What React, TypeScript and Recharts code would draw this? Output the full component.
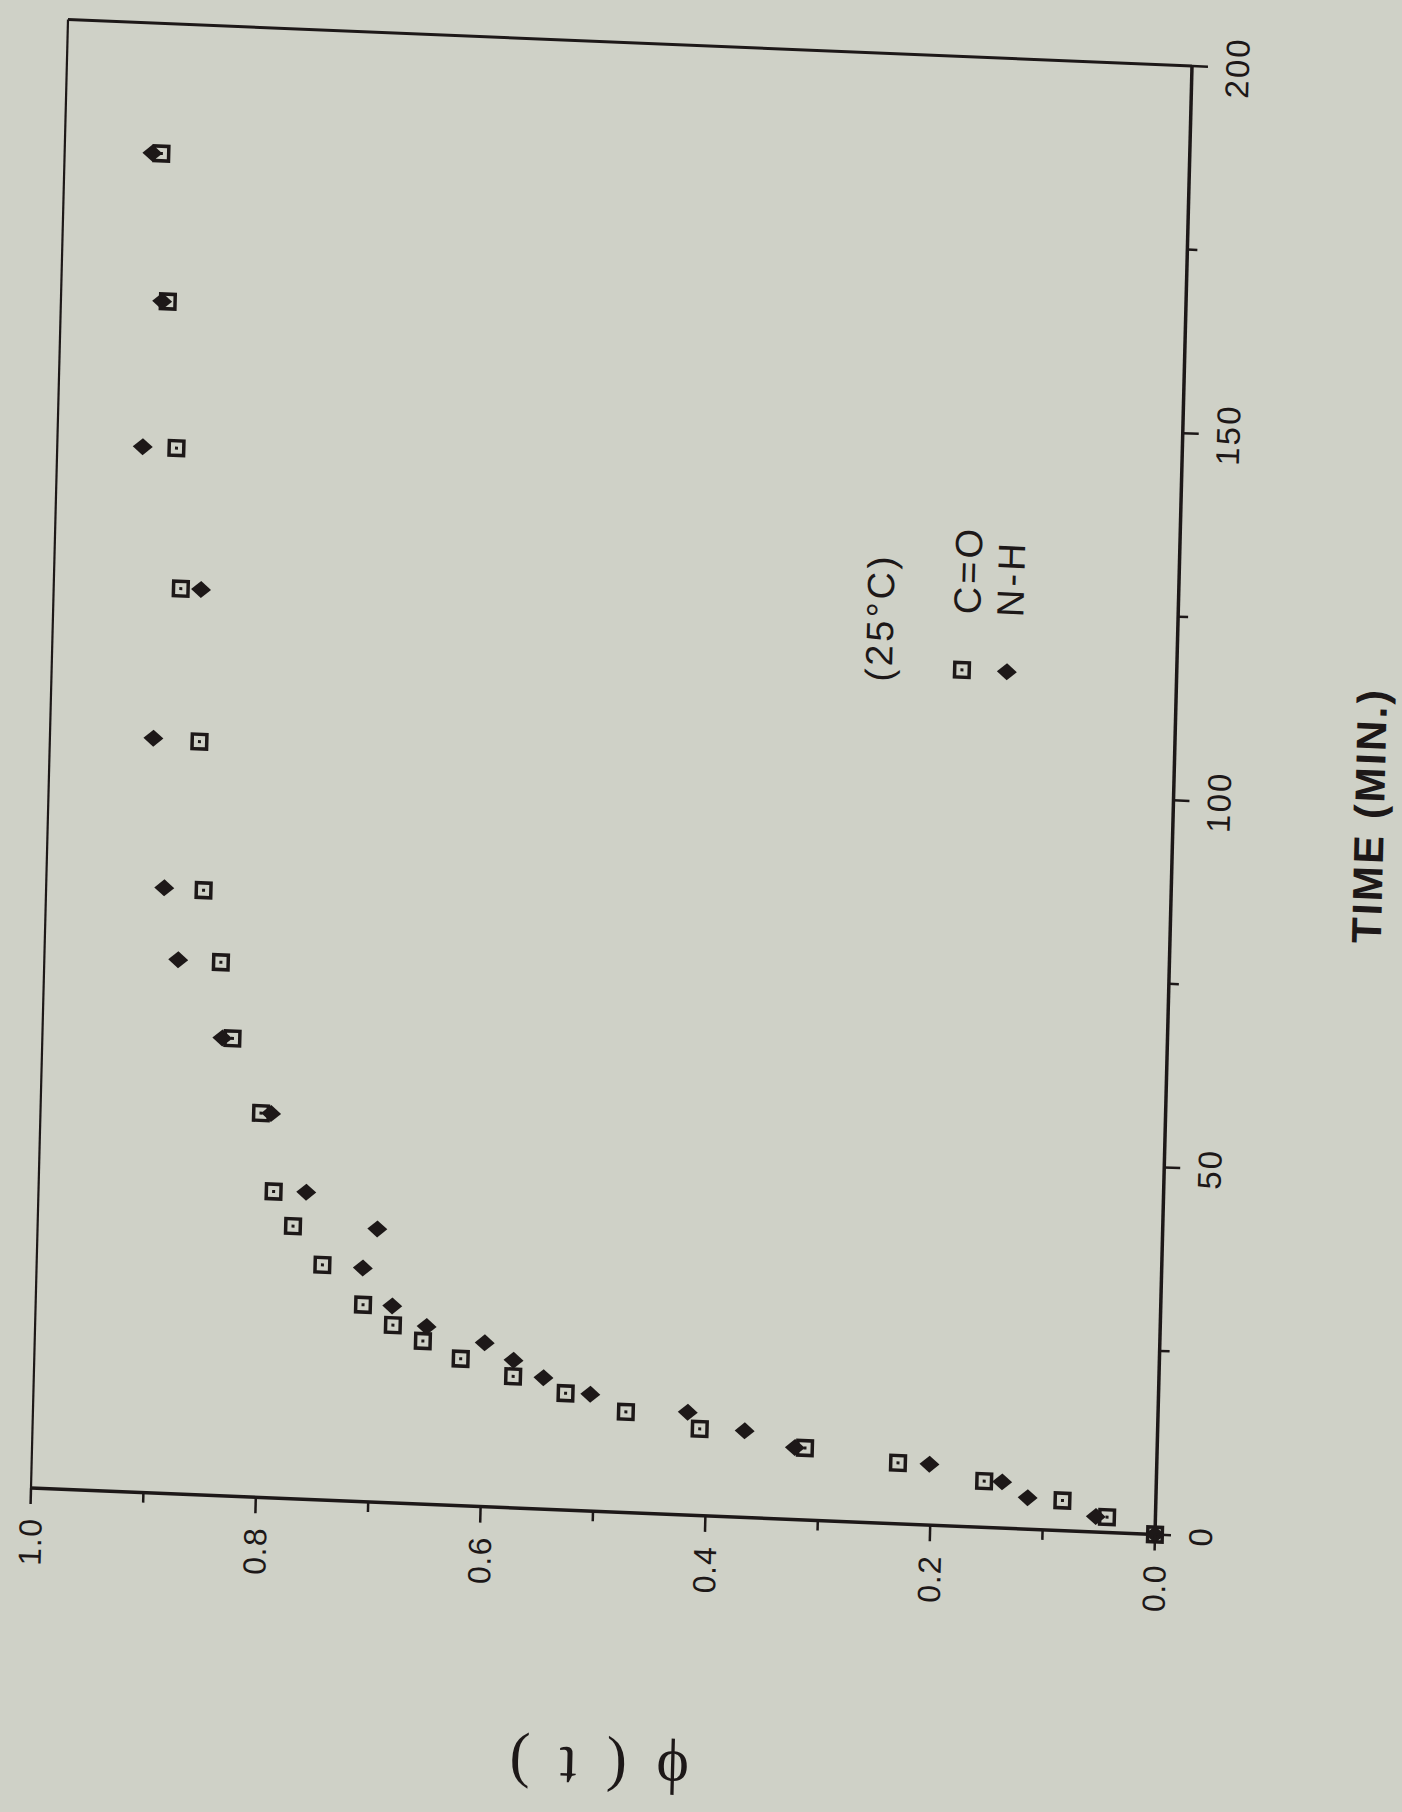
import React from "react";
import {
  ScatterChart,
  Scatter,
  XAxis,
  YAxis,
  Label,
  Legend,
  ReferenceLine,
} from "recharts";

// C=O band (open squares) and N-H band (filled diamonds), 25°C
const timesCO = [0, 2.1, 4.1, 6.3, 8.3, 9.8, 11.8, 13.7, 15.9, 17.9, 20.0, 22.2, 24.2, 26.8, 32.0, 37.1, 41.7, 52.3, 62.3, 72.6, 82.3, 102.5, 123.2, 142.3, 162.2, 182.3];
const phiCO = [0, 0.043, 0.083, 0.153, 0.23, 0.313, 0.407, 0.473, 0.527, 0.574, 0.621, 0.655, 0.682, 0.709, 0.746, 0.773, 0.791, 0.804, 0.831, 0.843, 0.86, 0.867, 0.887, 0.894, 0.905, 0.914];

const timesNH = [0, 2.1, 4.3, 6.3, 8.3, 9.8, 11.8, 14.0, 15.9, 17.9, 20.1, 22.3, 24.2, 26.8, 31.8, 37.2, 41.8, 52.3, 62.3, 72.7, 82.4, 102.7, 123.2, 142.3, 162.2, 182.3];
const phiNH = [0, 0.053, 0.114, 0.137, 0.202, 0.322, 0.367, 0.418, 0.505, 0.547, 0.574, 0.6, 0.652, 0.683, 0.71, 0.698, 0.762, 0.795, 0.84, 0.881, 0.895, 0.908, 0.869, 0.924, 0.91, 0.922];

const xTicks = [0, 25, 50, 75, 100, 125, 150, 175, 200];
const yTicks = [0, 0.1, 0.2, 0.3, 0.4, 0.5, 0.6, 0.7, 0.8, 0.9, 1.0];

const seriesNames = ["C=O", "N-H"];
const legendTitle = "(25°C)";
const xTitle = "TIME (MIN.)";
const yTitle = "ϕ ( t )";

const ink = "#1d1818";
const paper = "#cfd1c7";
const sans = "'Liberation Sans', Arial, Helvetica, sans-serif";
const serif = "'Liberation Serif', 'DejaVu Serif', 'Times New Roman', serif";

const coData = timesCO.map((t, i) => ({ t, phi: phiCO[i] }));
const nhData = timesNH.map((t, i) => ({ t, phi: phiNH[i] }));

// chart geometry (unrotated); the whole chart is turned on its side, slightly skewed, like the scan
const yAxisW = 310;
const xAxisH = 240;
const top = 20;
const right = 60;
const plotW = 1469;
const plotH = 1126;
const W = yAxisW + plotW + right;
const H = top + plotH + xAxisH;
const cx0 = yAxisW + plotW / 2;
const cy0 = top + plotH / 2;

function SquareMark(props: any) {
  const { cx, cy } = props;
  return (
    <g>
      <rect x={cx - 7.3} y={cy - 7.3} width={14.6} height={14.6} fill="none" stroke={ink} strokeWidth={3.5} />
      <rect x={cx - 1.5} y={cy - 1.5} width={3} height={3} fill={ink} />
    </g>
  );
}

function DiamondMark(props: any) {
  const { cx, cy } = props;
  return <polygon points={`${cx},${cy - 10} ${cx + 8.5},${cy} ${cx},${cy + 10} ${cx - 8.5},${cy}`} fill={ink} />;
}

function TimeTick(props: any) {
  const { x, y, payload } = props;
  const v = payload.value;
  const major = v % 50 === 0;
  return (
    <g>
      <line x1={x} y1={y} x2={x} y2={y + (major ? 16 : 10)} stroke={ink} strokeWidth={2.5} />
      {major && (
        <text x={x} y={y + 57} textAnchor="middle" fontFamily={sans} fontSize={33} letterSpacing={2} fill={ink}>
          {v}
        </text>
      )}
    </g>
  );
}

function PhiTick(props: any) {
  const { x, y, payload } = props;
  const v = payload.value;
  const major = Math.round(v * 10) % 2 === 0;
  return (
    <g>
      <line x1={x} y1={y} x2={x - (major ? 16 : 10)} y2={y} stroke={ink} strokeWidth={2.5} />
      {major && (
        <text x={x - 30} y={y + 11.5} textAnchor="end" fontFamily={sans} fontSize={32} letterSpacing={1} fill={ink}>
          {v.toFixed(1)}
        </text>
      )}
    </g>
  );
}

function TimeTitle(props: any) {
  const vb = props.viewBox || { x: yAxisW, y: top + plotH, width: plotW };
  return (
    <text
      x={vb.x + vb.width / 2 - 7}
      y={vb.y + 211}
      textAnchor="middle"
      fontFamily={sans}
      fontWeight="bold"
      fontSize={42}
      letterSpacing={2.5}
      fill={ink}
    >
      {xTitle}
    </text>
  );
}

function PhiTitle(props: any) {
  const vb = props.viewBox || { x: 0, y: top, width: yAxisW, height: plotH };
  const lx = vb.x + vb.width - 258;
  const ly = vb.y + vb.height / 2 + 9;
  return (
    <text
      x={lx}
      y={ly}
      transform={`rotate(-90, ${lx}, ${ly})`}
      textAnchor="middle"
      dominantBaseline="central"
      fontFamily={serif}
      fontSize={62}
      letterSpacing={7}
      fill={ink}
    >
      {yTitle}
    </text>
  );
}

function LegendBox(props: any) {
  const names = (props.payload ?? []).map((p: any) => p.value);
  const n0 = names[0] ?? seriesNames[0];
  const n1 = names[1] ?? seriesNames[1];
  return (
    <svg width={220} height={220} style={{ overflow: "visible" }}>
      <text x={33} y={63} fontFamily={sans} fontSize={38} letterSpacing={3} fill={ink}>
        {legendTitle}
      </text>
      <SquareMark cx={48} cy={133} />
      <text x={104} y={150} fontFamily={sans} fontSize={38} letterSpacing={3} fill={ink}>
        {n0}
      </text>
      <DiamondMark cx={48} cy={178} />
      <text x={103} y={193} fontFamily={sans} fontSize={38} letterSpacing={3} fill={ink}>
        {n1}
      </text>
    </svg>
  );
}

export default function App() {
  return (
    <div style={{ position: "absolute", left: 0, top: 0, width: 1402, height: 1812, overflow: "hidden", background: paper }}>
      <div
        style={{
          position: "absolute",
          left: 611 - cx0,
          top: 777 - cy0,
          width: W,
          height: H,
          transform: "matrix(0.02519, -0.99966, 0.99822, 0.0413, 0, 0)",
          transformOrigin: `${cx0}px ${cy0}px`,
        }}
      >
        <ScatterChart width={W} height={H} margin={{ top, right, left: 0, bottom: 0 }} style={{ overflow: "visible" }}>
          <XAxis
            type="number"
            dataKey="t"
            domain={[0, 200]}
            ticks={xTicks}
            interval={0}
            tickSize={0}
            tickMargin={0}
            tickLine={false}
            tick={<TimeTick />}
            axisLine={{ stroke: ink, strokeWidth: 3.5 }}
            height={xAxisH}
          >
            <Label content={<TimeTitle />} />
          </XAxis>
          <YAxis
            type="number"
            dataKey="phi"
            domain={[0, 1]}
            ticks={yTicks}
            interval={0}
            tickSize={0}
            tickMargin={0}
            tickLine={false}
            tick={<PhiTick />}
            axisLine={{ stroke: ink, strokeWidth: 3.5 }}
            width={yAxisW}
          >
            <Label content={<PhiTitle />} />
          </YAxis>
          <ReferenceLine y={1} stroke={ink} strokeWidth={2.2} />
          <ReferenceLine x={200} stroke={ink} strokeWidth={3} />
          <Legend
            layout="vertical"
            align="center"
            verticalAlign="middle"
            content={<LegendBox />}
            wrapperStyle={{ left: yAxisW + 808, top: top + 778, width: 220, height: 220 }}
          />
          <Scatter name={seriesNames[0]} data={coData} shape={<SquareMark />} isAnimationActive={false} />
          <Scatter name={seriesNames[1]} data={nhData} shape={<DiamondMark />} isAnimationActive={false} />
        </ScatterChart>
      </div>
    </div>
  );
}
